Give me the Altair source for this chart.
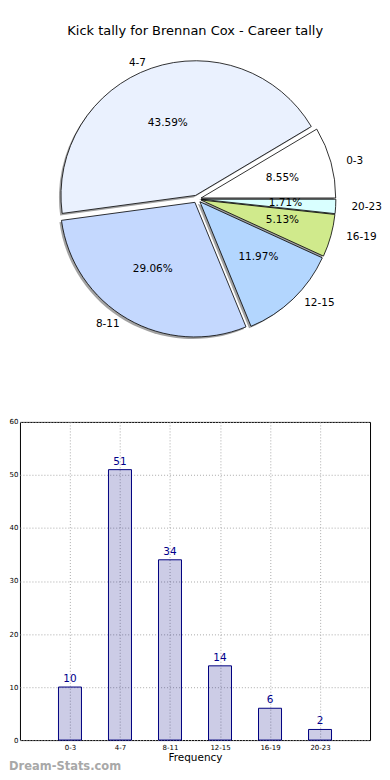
import altair as alt
import pandas as pd

categories = ["0-3", "4-7", "8-11", "12-15", "16-19", "20-23"]
counts = [10, 51, 34, 14, 6, 2]
pie_colors = ["#ffffff", "#eaf1fe", "#c4d8fe", "#b3d6fe", "#d0ea8c", "#d9ffff"]
y_ticks = [0, 10, 20, 30, 40, 50, 60]

df = pd.DataFrame({"cat": categories, "count": counts, "idx": list(range(len(categories)))})

FONT = "DejaVu Sans"
PIE_H = 380
CX = 177.5
CY = 161.5
RX, RY = 141.0, 128.0
R = 135.0

base = alt.Chart(df).transform_joinaggregate(
    total="sum(count)"
).transform_window(
    cum="sum(count)", sort=[alt.SortField("idx")], frame=[None, 0]
).transform_calculate(
    a0="2*PI*(datum.cum - datum.count)/datum.total",
    a1="2*PI*datum.cum/datum.total",
).transform_calculate(
    mid="(datum.a0 + datum.a1)/2",
    t0="PI/2 - datum.a0",
    t1="PI/2 - datum.a1",
).transform_calculate(
    ex="0.03*cos(datum.mid)", ey="0.03*sin(datum.mid)",
    lx="1.10*cos(datum.mid)", ly="1.13*sin(datum.mid)",
    px="0.63*cos(datum.mid)", py="0.63*sin(datum.mid)",
    pct="format(datum.count/datum.total*100, '.2f') + '%'",
)

xs = alt.Scale(domain=[-1, 1], range=[CX - RX, CX + RX])
ys = alt.Scale(domain=[-1, 1], range=[CY + RY, CY - RY])

def pos(fx, fy):
    return dict(
        x=alt.X(f"{fx}:Q", scale=xs, axis=None),
        y=alt.Y(f"{fy}:Q", scale=ys, axis=None),
    )

shadow = base.mark_arc(radius=R, xOffset=-2, yOffset=2, fill="#555555", opacity=0.55).encode(
    theta=alt.Theta("t0:Q", scale=None), theta2="t1:Q", **pos("ex", "ey")
)
slices = base.mark_arc(radius=R, stroke="#000000", strokeWidth=0.8).encode(
    theta=alt.Theta("t0:Q", scale=None), theta2="t1:Q",
    color=alt.Color("cat:N", scale=alt.Scale(domain=categories, range=pie_colors), legend=None),
    **pos("ex", "ey")
)
labels_r = base.transform_filter("cos(datum.mid) >= 0").mark_text(
    align="left", baseline="middle", font=FONT, fontSize=10.5, color="#000000"
).encode(text="cat:N", **pos("lx", "ly"))
labels_l = base.transform_filter("cos(datum.mid) < 0").mark_text(
    align="right", baseline="middle", font=FONT, fontSize=10.5, color="#000000"
).encode(text="cat:N", **pos("lx", "ly"))
pcts = base.mark_text(
    align="center", baseline="middle", font=FONT, fontSize=10.5, color="#000000"
).encode(text="pct:N", **pos("px", "py"))

pie = alt.layer(shadow, slices, labels_r, labels_l, pcts).properties(
    width=351, height=PIE_H, view=alt.ViewBackground(stroke=None)
)

# bar chart
label_expr = "[" + ",".join(f"'{c}'" for c in categories) + "][datum.value]"
bbase = alt.Chart(df).transform_calculate(
    left="datum.idx - 0.23", right="datum.idx + 0.23"
)
xscale = alt.Scale(domain=[-1, 6], nice=False, zero=False)
yscale = alt.Scale(domain=[0, 60], nice=False)
bars = bbase.mark_rect(fill="#000080", fillOpacity=0.2, stroke="#000080", strokeWidth=1).encode(
    x=alt.X("left:Q", scale=xscale, axis=alt.Axis(
        values=list(range(len(categories))), labelExpr=label_expr, title="Frequency",
        grid=True, gridColor="#aaaaaa", gridDash=[1, 2], gridWidth=1,
        ticks=False, domain=False, labelFont=FONT, labelFontSize=7, labelColor="#000000",
        labelPadding=3, titleFont=FONT, titleFontSize=10.5, titleFontWeight="normal",
        titleColor="#000000", titlePadding=2,
    )),
    x2="right:Q",
    y=alt.Y("count:Q", scale=yscale, axis=alt.Axis(
        values=y_ticks, title=None, grid=True, gridColor="#aaaaaa", gridDash=[1, 2], gridWidth=1,
        ticks=False, domain=False, labelFont=FONT, labelFontSize=7, labelColor="#000000",
        labelPadding=2,
    )),
)
vals = bbase.mark_text(baseline="bottom", dy=-3, font=FONT, fontSize=10.5, color="#00008b").encode(
    x=alt.X("idx:Q", scale=xscale), y=alt.Y("count:Q", scale=yscale), text="count:Q"
)
barchart = alt.layer(bars, vals).properties(
    width=351, height=319,
    view=alt.ViewBackground(stroke="#000000", strokeWidth=1),
    title=alt.Title("Dream-Stats.com", orient="bottom", anchor="start", frame="bounds", font=FONT,
                    fontSize=11.5, fontWeight="bold", color="#a8a8a8", offset=-1),
)

chart = alt.vconcat(pie, barchart, spacing=0).properties(
    padding={"top": 16, "left": 0, "right": 0, "bottom": 0},
    title=alt.Title("Kick tally for Brennan Cox - Career tally", font=FONT, fontSize=13,
                    fontWeight="normal", color="#000000", anchor="middle", offset=0),
).configure_view(stroke=None).configure_concat(spacing=0)

chart.save("out.html", embed_options={"renderer": "svg", "actions": False})
